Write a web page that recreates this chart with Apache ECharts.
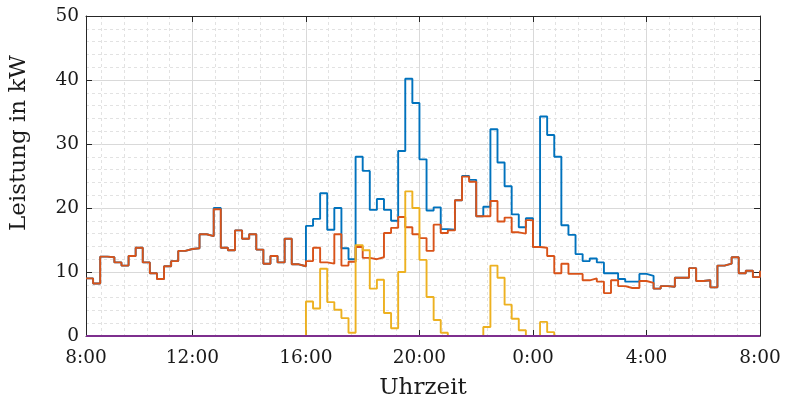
<!DOCTYPE html>
<html>
<head>
<meta charset="utf-8">
<script src="https://cdn.jsdelivr.net/npm/echarts@6/dist/echarts.min.js"></script>
<style>
  html, body { margin: 0; padding: 0; background: #fff; }
  #chart { width: 787px; height: 400px; }
</style>
</head>
<body>
<div id="chart"></div>
<script>
// Viertelstundenwerte von 8:15 bis 8:00 am Folgetag (96 Stützstellen, Treppenverlauf)
const startHour = 8.25;
const stepHours = 0.25;

// Gesamtleistung in kW
const gesamtLeistung = [
  9.0, 8.2, 12.4, 12.3, 11.5, 11.0, 12.5, 13.8, 11.5, 9.8, 8.9, 10.9, 11.7, 13.3, 13.6, 13.7,
  15.9, 15.6, 20.0, 13.8, 13.4, 16.5, 15.2, 15.9, 13.5, 11.3, 12.5, 11.5, 15.2, 11.2, 10.9,
  17.2, 18.3, 22.3, 16.6, 20.0, 13.7, 12.0, 28.0, 25.8, 19.7, 21.4, 19.7, 18.0, 28.9, 40.2, 36.4,
  27.6, 19.6, 20.1, 16.7, 16.6, 21.2, 25.0, 24.4, 18.7, 20.2, 32.3, 27.1, 23.4, 19.0, 17.0, 18.4,
  13.9, 34.3, 31.4, 28.0, 17.3, 15.8, 12.8, 11.7, 12.1, 11.5, 9.8, 9.8, 8.9, 8.5, 8.5, 9.7,
  9.4, 7.4, 7.8, 7.7, 9.1, 9.1, 10.6, 8.6, 8.7, 7.6, 11.0, 11.3, 12.3, 9.8, 10.2, 9.2, 10.2
];

// Grundlast in kW
const grundlast = [
  9.0, 8.2, 12.4, 12.3, 11.5, 11.0, 12.5, 13.8, 11.5, 9.8, 8.9, 10.9, 11.7, 13.3, 13.6, 13.7,
  15.9, 15.6, 19.8, 13.8, 13.4, 16.5, 15.2, 15.9, 13.5, 11.3, 12.5, 11.5, 15.2, 11.2, 10.9,
  11.7, 13.8, 11.5, 11.3, 15.9, 11.0, 11.6, 13.9, 12.2, 12.0, 12.3, 16.1, 16.9, 18.6, 17.0, 15.9,
  15.3, 13.3, 17.4, 16.1, 16.5, 21.2, 24.9, 24.1, 18.7, 18.7, 21.1, 17.9, 18.5, 16.2, 16.0, 18.1,
  13.9, 13.8, 12.5, 9.8, 11.3, 9.7, 9.7, 8.7, 9.0, 8.5, 6.7, 8.7, 7.8, 7.5, 7.5, 8.6,
  8.3, 7.4, 7.8, 7.7, 9.1, 9.1, 10.6, 8.6, 8.7, 7.6, 11.0, 11.3, 12.3, 9.8, 10.2, 9.2, 10.2
];

// Ladeleistung in kW
const ladeleistung = [
  0, 0, 0, 0, 0, 0, 0, 0, 0, 0, 0, 0, 0, 0, 0, 0,
  0, 0, 0, 0, 0, 0, 0, 0, 0, 0, 0, 0, 0, 0, 0,
  5.4, 4.3, 10.5, 5.3, 4.1, 2.8, 0.5, 14.2, 13.4, 7.4, 8.8, 3.6, 1.2, 10.0, 22.6, 20.0,
  11.9, 6.1, 2.5, 0.5, 0, 0, 0, 0, 0, 1.4, 11.0, 9.1, 4.9, 2.7, 0.9, 0,
  0, 2.2, 0.6, 0, 0, 0, 0, 0, 0, 0, 0, 0, 0, 0, 0, 0,
  0, 0, 0, 0, 0, 0, 0, 0, 0, 0, 0, 0, 0, 0, 0, 0, 0
];

// Speicherleistung in kW
const speicherLeistung = [
  0, 0, 0, 0, 0, 0, 0, 0, 0, 0, 0, 0, 0, 0, 0, 0,
  0, 0, 0, 0, 0, 0, 0, 0, 0, 0, 0, 0, 0, 0, 0,
  0, 0, 0, 0, 0, 0, 0, 0, 0, 0, 0, 0, 0, 0, 0, 0,
  0, 0, 0, 0, 0, 0, 0, 0, 0, 0, 0, 0, 0, 0, 0, 0,
  0, 0, 0, 0, 0, 0, 0, 0, 0, 0, 0, 0, 0, 0, 0, 0,
  0, 0, 0, 0, 0, 0, 0, 0, 0, 0, 0, 0, 0, 0, 0, 0, 0
];

const seriesColors = ['#0072BD', '#D95319', '#EDB120', '#7E2F8E'];

function toPoints(values) {
  return values.map((v, i) => [startHour + i * stepHours, v]);
}

function hourLabel(v) {
  return (Math.floor(v + 1e-9) % 24) + ':00';
}

const axisColor = '#262626';
const textColor = '#1a1a1a';
const fontFamily = '"DejaVu Serif", serif';

const chart = echarts.init(document.getElementById('chart'), null, { renderer: 'canvas' });

const xCommon = {
  type: 'value',
  min: startHour,
  max: 32,
  minInterval: 4,
  maxInterval: 4,
  axisLine: { show: true, onZero: false, lineStyle: { color: axisColor, width: 1 } },
  axisTick: { show: true, inside: true, length: 6, lineStyle: { color: axisColor } }
};

const yCommon = {
  type: 'value',
  min: 0,
  max: 50,
  interval: 10,
  axisLine: { show: true, onZero: false, lineStyle: { color: axisColor, width: 1 } },
  axisTick: { show: true, inside: true, length: 6, lineStyle: { color: axisColor } }
};

const lineSeries = (name, values, color) => ({
  name: name,
  type: 'line',
  step: 'end',
  data: toPoints(values),
  showSymbol: false,
  symbol: 'none',
  lineStyle: { color: color, width: 1.9 },
  itemStyle: { color: color },
  emphasis: { disabled: true },
  animation: false
});

chart.setOption({
  backgroundColor: '#ffffff',
  animation: false,
  grid: {
    left: 86, right: 27, top: 16, bottom: 64,
    containLabel: false,
    outerBoundsMode: 'none'
  },
  xAxis: [
    Object.assign({}, xCommon, {
      position: 'bottom',
      name: 'Uhrzeit',
      nameLocation: 'middle',
      nameGap: 41,
      nameTextStyle: { fontFamily: fontFamily, fontSize: 23, color: textColor },
      axisLabel: {
        show: true, margin: 13, formatter: hourLabel,
        fontFamily: fontFamily, fontSize: 18.5, color: textColor
      },
      splitLine: { show: true, lineStyle: { color: '#d9d9d9', width: 1 } },
      minorTick: { show: false, splitNumber: 5 },
      minorSplitLine: { show: true, lineStyle: { color: '#e2e2e2', width: 1, type: [3, 3] } }
    }),
    Object.assign({}, xCommon, {
      position: 'top',
      axisLabel: { show: false },
      splitLine: { show: false }
    })
  ],
  yAxis: [
    Object.assign({}, yCommon, {
      position: 'left',
      name: 'Leistung in kW',
      nameLocation: 'middle',
      nameRotate: 90,
      nameGap: 55,
      nameTextStyle: {
        fontFamily: fontFamily, fontSize: 23, color: textColor,
        padding: [0, 0, 0, 66]
      },
      axisLabel: {
        show: true, margin: 7,
        fontFamily: fontFamily, fontSize: 18.5, color: textColor
      },
      splitLine: { show: true, lineStyle: { color: '#d9d9d9', width: 1 } },
      minorTick: { show: false, splitNumber: 5 },
      minorSplitLine: { show: true, lineStyle: { color: '#e2e2e2', width: 1, type: [3, 3] } }
    }),
    Object.assign({}, yCommon, {
      position: 'right',
      axisLabel: { show: false },
      splitLine: { show: false }
    })
  ],
  series: [
    lineSeries('Gesamtleistung', gesamtLeistung, seriesColors[0]),
    lineSeries('Grundlast', grundlast, seriesColors[1]),
    lineSeries('Ladeleistung', ladeleistung, seriesColors[2]),
    lineSeries('Speicherleistung', speicherLeistung, seriesColors[3])
  ]
});
</script>
</body>
</html>
